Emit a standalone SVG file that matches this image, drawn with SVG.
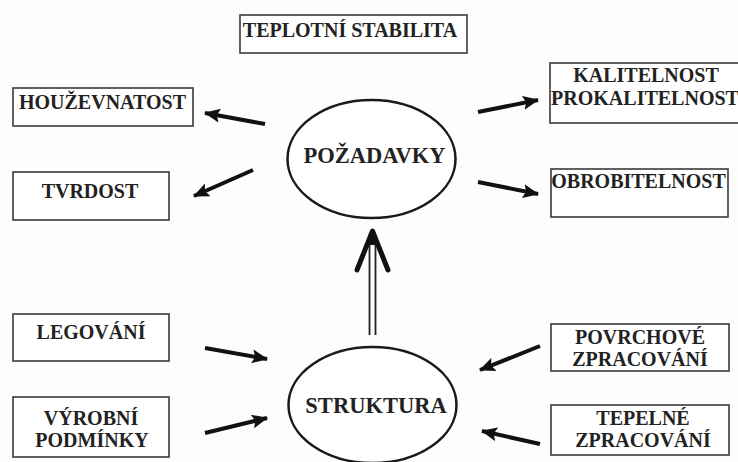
<svg xmlns="http://www.w3.org/2000/svg" width="738" height="462" viewBox="0 0 738 462">
<style>
.box{fill:#fff;stroke:#3a3a3a;stroke-width:1.6}
.ell{fill:#fff;stroke:#1a1a1a;stroke-width:2.5}
.t{font-family:"Liberation Serif","Times New Roman",serif;font-weight:bold;font-size:20px;fill:#222;text-anchor:middle}
.big{font-size:22.5px}
.arr{fill:none;stroke:#111;stroke-width:4;marker-end:url(#ah)}
.dbl{fill:none;stroke:#222;stroke-width:1.8}
</style>
<defs>
<marker id="ah" markerUnits="userSpaceOnUse" markerWidth="16" markerHeight="14" viewBox="0 0 16 14" refX="15" refY="7" orient="auto">
<path d="M0,0 L16,7 L0,14 L3,7 Z" fill="#111"/>
</marker>
</defs>
<rect width="738" height="462" fill="#fdfdfd"/>
<g id="connectors">
<path class="arr" d="M265,124 L205,113"/>
<path class="arr" d="M253,170 L194,196"/>
<path class="arr" d="M478,112 L538,100"/>
<path class="arr" d="M478,182 L538,194"/>
<path class="arr" d="M205,348 L267,359"/>
<path class="arr" d="M205,433 L267,418"/>
<path class="arr" d="M540,346 L480,370"/>
<path class="arr" d="M540,444 L482,431"/>
<g id="structure-to-requirements">
<line class="dbl" x1="369.5" y1="335" x2="369.5" y2="236"/>
<line class="dbl" x1="375.5" y1="335" x2="375.5" y2="236"/>
<path d="M357,270 L372.5,231 L388,270" fill="none" stroke="#111" stroke-width="5" stroke-linejoin="round" stroke-linecap="round"/>
<path d="M366,245 L372.5,229 L379,245 Z" fill="#111"/>
</g>
</g>
<g id="teplotni-stabilita">
<rect class="box" x="240" y="15" width="227" height="38"/>
<text class="t" x="350" y="37">TEPLOTNÍ STABILITA</text>
</g>
<g id="houzevnatost">
<rect class="box" x="13" y="88" width="180" height="38"/>
<text class="t" x="102.5" y="109">HOUŽEVNATOST</text>
</g>
<g id="tvrdost">
<rect class="box" x="13" y="172" width="156" height="48"/>
<text class="t" x="90" y="198">TVRDOST</text>
</g>
<g id="kalitelnost">
<rect class="box" x="550" y="63" width="190" height="60"/>
<text class="t" x="646" y="82">KALITELNOST</text>
<text class="t" x="645" y="105">PROKALITELNOST</text>
</g>
<g id="obrobitelnost">
<rect class="box" x="551" y="169" width="177" height="48"/>
<text class="t" x="638.5" y="188">OBROBITELNOST</text>
</g>
<g id="pozadavky">
<ellipse class="ell" cx="371.5" cy="159" rx="84" ry="59"/>
<text class="t big" x="374.5" y="163">POŽADAVKY</text>
</g>
<g id="legovani">
<rect class="box" x="13" y="314" width="156" height="47"/>
<text class="t" x="91" y="339">LEGOVÁNÍ</text>
</g>
<g id="vyrobni-podminky">
<rect class="box" x="13" y="397" width="156" height="60"/>
<text class="t" x="91" y="425">VÝROBNÍ</text>
<text class="t" x="92" y="447">PODMÍNKY</text>
</g>
<g id="struktura">
<ellipse class="ell" cx="372.5" cy="405" rx="84" ry="58"/>
<text class="t big" x="376" y="413">STRUKTURA</text>
</g>
<g id="povrchove-zpracovani">
<rect class="box" x="551" y="324" width="178" height="47"/>
<text class="t" x="640" y="344">POVRCHOVÉ</text>
<text class="t" x="640" y="366">ZPRACOVÁNÍ</text>
</g>
<g id="tepelne-zpracovani">
<rect class="box" x="551" y="405" width="178" height="50"/>
<text class="t" x="643" y="425">TEPELNÉ</text>
<text class="t" x="643" y="447">ZPRACOVÁNÍ</text>
</g>
</svg>
